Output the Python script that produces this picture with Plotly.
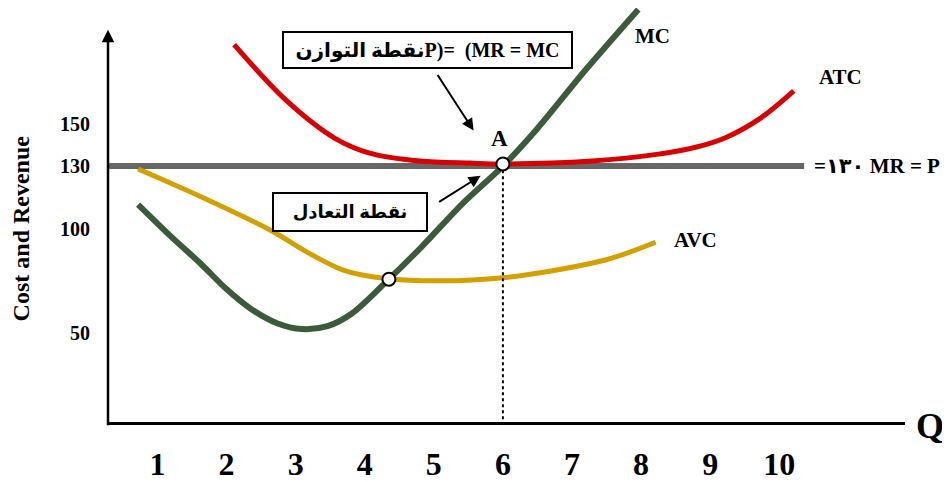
import plotly.graph_objects as go

# ---- data ----
mc_q = [0.72, 1.19, 1.63, 1.99, 2.36, 2.73, 3.09, 3.46, 3.82, 4.35, 4.82, 5.43, 6.0, 6.50, 7.18, 7.96]
mc_v = [111.5, 96.4, 83.1, 71.3, 61.4, 54.7, 51.9, 53.3, 59.5, 75.8, 91.2, 112.5, 130.0, 148.0, 175.4, 205.0]

atc_q = [2.11, 2.84, 3.57, 4.07, 4.80, 5.53, 6.0, 7.29, 8.25, 8.79, 9.23, 9.74, 10.21]
atc_v = [188.2, 162.2, 143.3, 136.2, 132.4, 131.4, 131.0, 132.4, 135.7, 139.0, 143.7, 153.2, 166.0]

avc_q = [0.72, 1.63, 2.61, 3.24, 3.68, 4.11, 4.85, 6.0, 7.48, 8.21]
avc_v = [128.6, 115.3, 99.7, 87.4, 80.3, 77.0, 75.1, 76.5, 85.0, 93.5]

mr_q = [0.28, 10.36]
mr_v = [130, 130]

eq_q = [6.0, 4.35]          # A (equilibrium) and AVC/MC crossing
eq_v = [131.0, 75.8]

x_ticks = [1, 2, 3, 4, 5, 6, 7, 8, 9, 10]
y_ticks = [50, 100, 130, 150]

X_RANGE = [0.284, 11.82]
Y_RANGE = [7.4, 205.7]

SERIF = "Liberation Serif, Times New Roman, DejaVu Sans, serif"

fig = go.Figure()
fig.add_trace(go.Scatter(x=mr_q, y=mr_v, mode="lines",
                         line=dict(color="#676767", width=6), hoverinfo="skip"))
fig.add_trace(go.Scatter(x=avc_q, y=avc_v, mode="lines",
                         line=dict(color="#d4a000", width=5, shape="spline", smoothing=0.9)))
fig.add_trace(go.Scatter(x=atc_q, y=atc_v, mode="lines",
                         line=dict(color="#d80000", width=5, shape="spline", smoothing=0.9)))
fig.add_trace(go.Scatter(x=mc_q, y=mc_v, mode="lines",
                         line=dict(color="#3c5b3a", width=6, shape="spline", smoothing=0.9)))
# dotted drop line from A
fig.add_trace(go.Scatter(x=[eq_q[0], eq_q[0]], y=[mr_v[0] - 2, Y_RANGE[0]], mode="lines",
                         line=dict(color="black", width=2, dash="dot")))
fig.add_trace(go.Scatter(x=eq_q, y=eq_v, mode="markers",
                         marker=dict(size=13, color="white", line=dict(color="black", width=2))))

ann = []
# y axis with arrow
ann.append(dict(x=X_RANGE[0], y=195.3, xref="x", yref="y", text="", showarrow=True,
                ax=0, ay=397, axref="pixel", ayref="pixel", arrowhead=2, arrowsize=1,
                arrowwidth=2.5, arrowcolor="black", standoff=0, startstandoff=0))
# curve labels
lab = dict(xref="x", yref="y", showarrow=False, font=dict(family=SERIF, size=21, color="black", weight="bold"))
ann.append(dict(lab, x=8.163, y=192.5, text="MC"))
ann.append(dict(lab, x=10.88, y=172.6, text="ATC"))
ann.append(dict(lab, x=8.79, y=94.5, text="AVC"))
ann.append(dict(lab, x=5.956, y=143.3, text="A", font=dict(family=SERIF, size=23, color="black", weight="bold")))
ann.append(dict(lab, x=10.47, y=130, text="=١٣٠ MR = P", xanchor="left"))
# boxes
ann.append(dict(xref="x", yref="y", x=4.904, y=185.4, showarrow=False,
                text="نقطة التوازنP)=  (MR = MC", width=287, height=34,
                bordercolor="black", borderwidth=2, borderpad=0, bgcolor="white",
                font=dict(family=SERIF, size=20, color="black", weight="bold")))
ann.append(dict(xref="x", yref="y", x=3.792, y=108.2, showarrow=False,
                text="نقطة التعادل", width=152, height=36,
                bordercolor="black", borderwidth=2, borderpad=0, bgcolor="white",
                font=dict(family=SERIF, size=18, color="black", weight="bold")))
# pointer arrows
arr = dict(xref="x", yref="y", text="", showarrow=True, axref="pixel", ayref="pixel",
           arrowhead=2, arrowsize=1.2, arrowwidth=2, arrowcolor="black", standoff=0)
ann.append(dict(arr, x=5.576, y=147.0, ax=-37, ay=-57))
ann.append(dict(arr, x=5.678, y=125.3, ax=-43, ay=27))
# Q label at end of x axis
ann.append(dict(xref="paper", yref="y", x=1.0, y=Y_RANGE[0], xanchor="left", yanchor="middle",
                xshift=9, yshift=-4, showarrow=False, text="Q",
                font=dict(family=SERIF, size=36, color="black", weight="bold")))
# y axis title
ann.append(dict(xref="paper", yref="paper", x=-0.109, y=0.468, xanchor="center", yanchor="middle",
                textangle=-90, showarrow=False, text="Cost and Revenue",
                font=dict(family=SERIF, size=24, color="black", weight="bold")))
fig.update_layout(annotations=ann)

# the page body has an 8px margin, so the figure is sized to end at the window edge
fig.update_layout(
    width=942, height=474,
    margin=dict(l=100, r=45, t=0, b=55),
    paper_bgcolor="white", plot_bgcolor="white",
    showlegend=False,
    xaxis=dict(range=X_RANGE, tickvals=x_ticks, ticktext=[str(v) for v in x_ticks],
               showgrid=False, zeroline=False, showline=True, linecolor="black", linewidth=3,
               ticks="", ticklabelstandoff=12,
               tickfont=dict(family=SERIF, size=32, color="black", weight="bold")),
    yaxis=dict(range=Y_RANGE, tickvals=y_ticks, ticktext=[str(v) for v in y_ticks],
               showgrid=False, zeroline=False, showline=False,
               ticks="", ticklabelstandoff=17,
               tickfont=dict(family=SERIF, size=20, color="black", weight="bold")),
)

fig.write_html("out.html")
